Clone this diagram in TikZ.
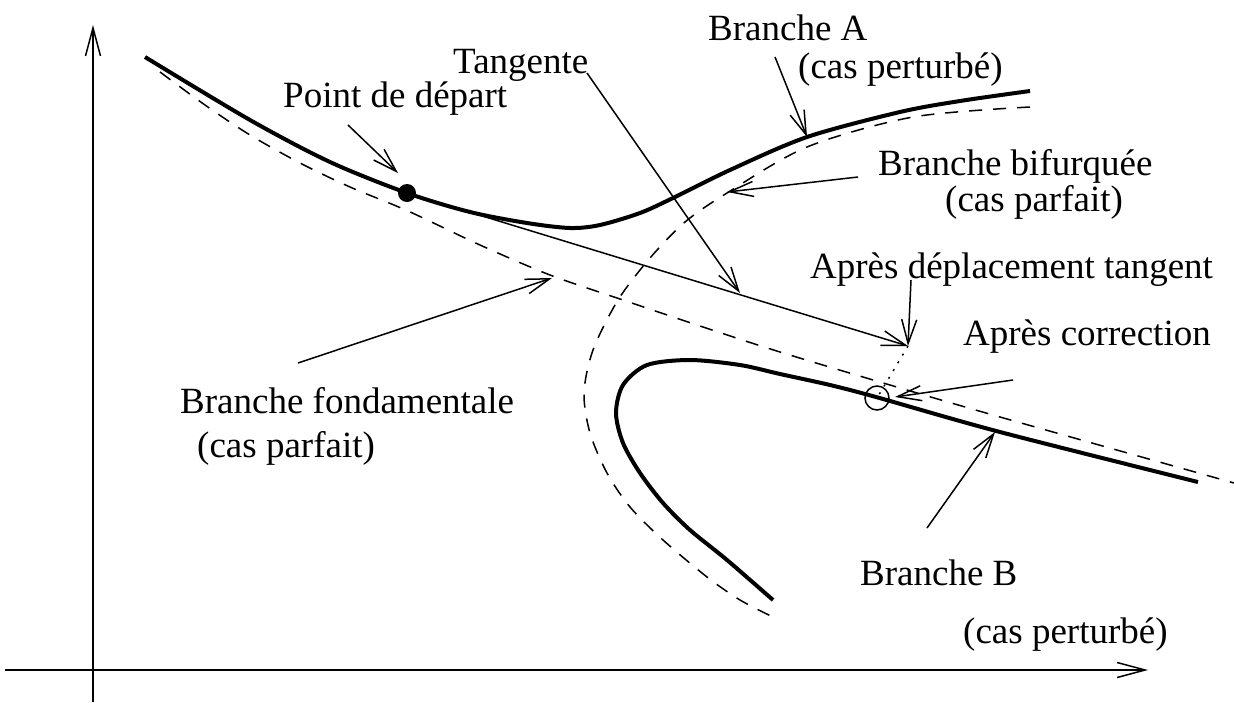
\documentclass[tikz,border=0pt]{standalone}
\usepackage{fontspec}
\setmainfont{Liberation Serif}
\usetikzlibrary{arrows.meta}
\begin{document}
\begin{tikzpicture}[x=1pt,y=-1pt,
  lbl/.style={anchor=base west,inner sep=0pt,font=\fontsize{37}{44}\selectfont},
  ptr/.style={line width=1.5pt,-{Straight Barb[length=24pt,width=15pt,line width=1.5pt]}},
  axisline/.style={line width=1.5pt,-{Straight Barb[length=28pt,width=15pt,line width=1.5pt]}},
  boldc/.style={line width=4pt},
  dashc/.style={line width=1.5pt,dash pattern=on 13pt off 11pt},
  dotc/.style={line width=1.5pt,dash pattern=on 2pt off 7pt},
]
\useasboundingbox (0,0) rectangle (1234,702);

% axes
\coordinate (ybot) at (93,702);
\coordinate (ytop) at (93,25);
\coordinate (xleft) at (5,670);
\coordinate (xright) at (1148,670);
\draw[axisline] (ybot) -- (ytop);
\draw[axisline] (xleft) -- (xright);

% dashed fundamental branch
\draw[dashc] plot[smooth] coordinates {(160,72) (205,105) (250,135) (300,163) (350,187) (408,211) (480,245) (550,275) (623,300) (700,326) (780,352) (890,385) (1000,417) (1234,483)};

% dashed bifurcated branch
\draw[dashc] plot[smooth] coordinates {(1030,107) (913,117) (807,147) (727,193) (685,222) (650,258) (618,300) (593,350) (584,393) (590,433) (607,473) (630,507) (663,540) (707,577) (740,600) (773,617)};

% bold branch A
\draw[boldc] plot[smooth] coordinates {(145,57) (250,120) (330,162) (407,193) (470,212) (527,223) (570,228) (600,225) (640,213) (673,198) (730,170) (807,137) (900,112) (960,101) (1030,91)};

% bold branch B
\draw[boldc] plot[smooth] coordinates {(773,600) (727,560) (690,530) (663,503) (640,473) (623,443) (616,413) (623,385) (647,365) (690,360) (740,365) (780,374) (830,385) (876,397) (1000,432) (1198,482)};

% key points
\coordinate (P) at (407,193);
\coordinate (T) at (908,346);
\coordinate (C) at (877,398);
\fill (P) circle (9);
\draw[line width=1.5pt] (C) circle (12);
\draw[ptr] (P) -- (T);
\draw[dotc] (T) -- (C);

% labels
\node[lbl] (tang) at (453,73) {Tangente};
\node[lbl] (pdep) at (283,107) {Point de départ};
\node[lbl] (brA) at (708,40) {Branche A};
\node[lbl] (brAc) at (798,78) {(cas perturbé)};
\node[lbl] (brbif) at (878,175) {Branche bifurquée};
\node[lbl] (brbifc) at (945,211) {(cas parfait)};
\node[lbl] (apdep) at (810,278) {Après déplacement tangent};
\node[lbl] (apcor) at (963,345) {Après correction};
\node[lbl] (brf) at (180,413) {Branche fondamentale};
\node[lbl] (brfc) at (197,457) {(cas parfait)};
\node[lbl] (brB) at (860,585) {Branche B};
\node[lbl] (brBc) at (963,643) {(cas perturbé)};

% pointer coordinates
\coordinate (tangS) at (587,73);
\coordinate (tangE) at (740,293);
\coordinate (pdepS) at (348,125);
\coordinate (pdepE) at (398,173);
\coordinate (brAS) at (775,57);
\coordinate (brAE) at (807,137);
\coordinate (brbifS) at (858,177);
\coordinate (brbifE) at (727,192);
\coordinate (apdepS) at (911,280);
\coordinate (apcorS) at (1013,380);
\coordinate (apcorE) at (895,397);
\coordinate (brfS) at (298,363);
\coordinate (brfE) at (552,278);
\coordinate (brBS) at (927,528);
\coordinate (brBE) at (995,432);

\draw[ptr] (tangS) -- (tangE);
\draw[ptr] (pdepS) -- (pdepE);
\draw[ptr] (brAS) -- (brAE);
\draw[ptr] (brbifS) -- (brbifE);
\draw[ptr] (apdepS) -- (T);
\draw[ptr] (apcorS) -- (apcorE);
\draw[ptr] (brfS) -- (brfE);
\draw[ptr] (brBS) -- (brBE);
\end{tikzpicture}
\end{document}
